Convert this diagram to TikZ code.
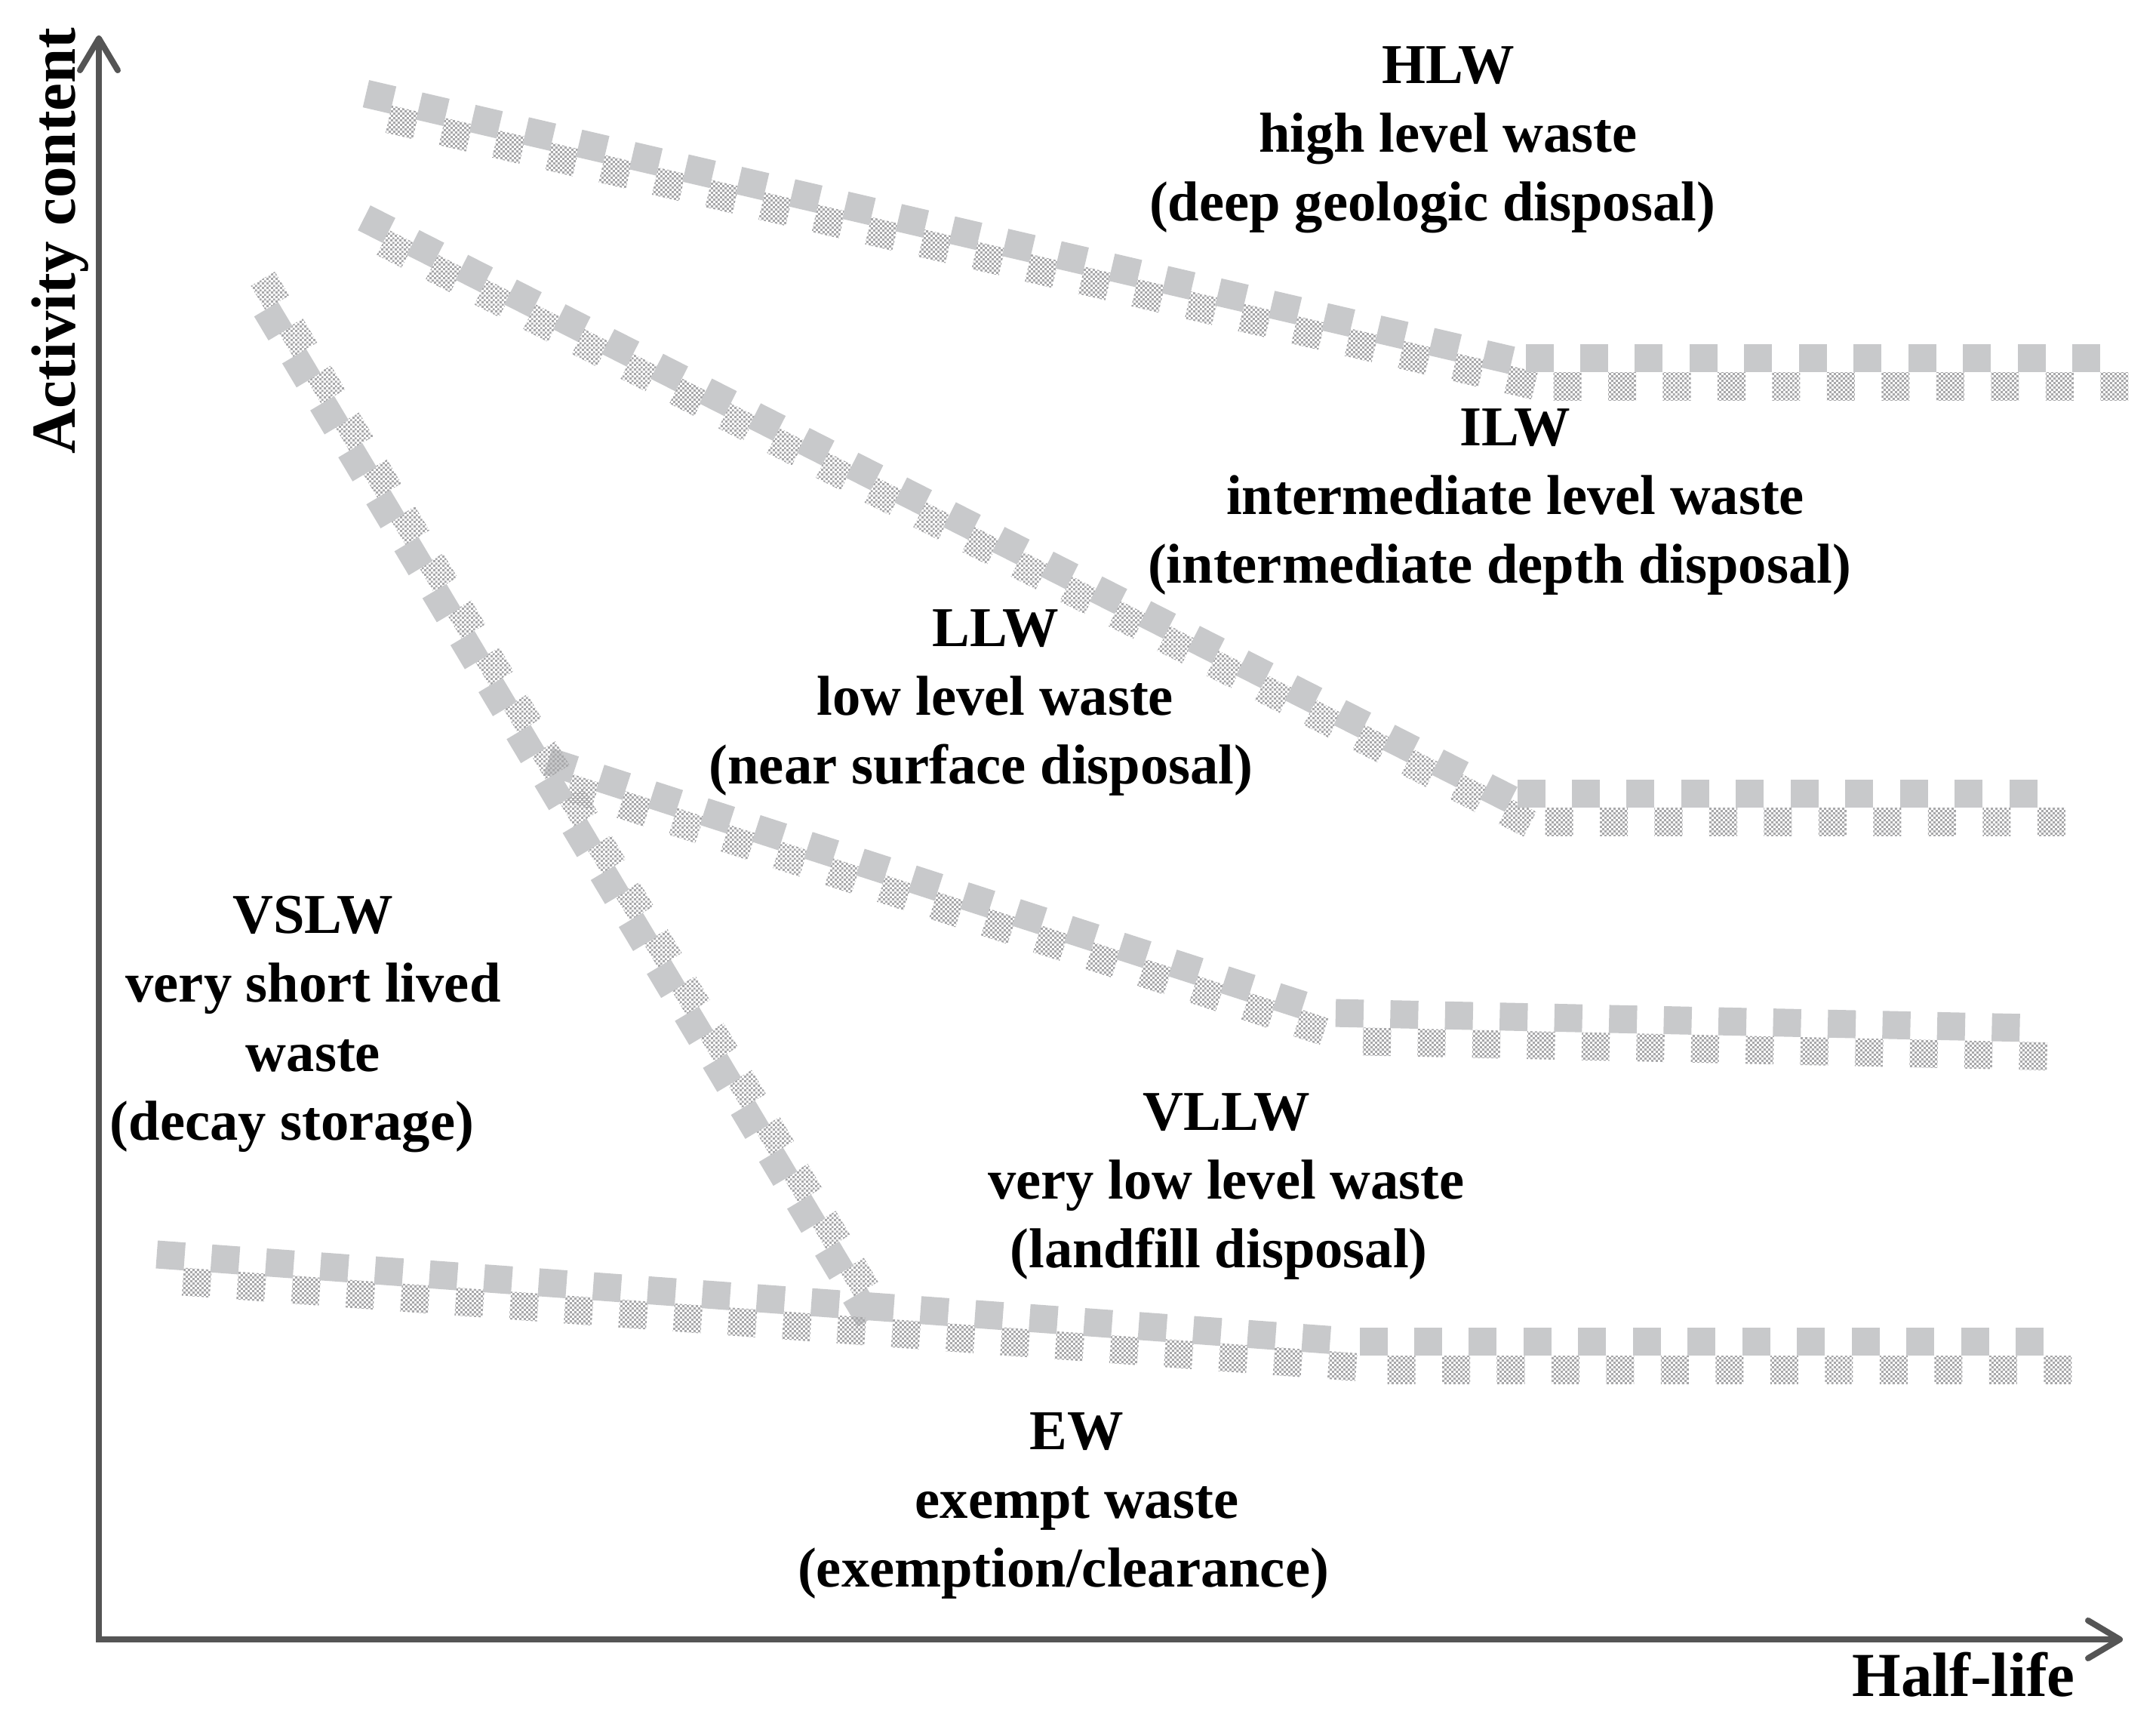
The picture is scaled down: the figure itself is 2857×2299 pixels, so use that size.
\documentclass[tikz,border=0pt]{standalone}
\usepackage{fontspec}
\setmainfont{Liberation Serif}
\usetikzlibrary{arrows.meta,decorations.markings,patterns.meta}

\definecolor{bandgray}{RGB}{200,201,203}
\definecolor{dotgray}{RGB}{168,168,170}
\definecolor{axisgray}{RGB}{85,85,85}

\tikzdeclarepattern{
  name=finechecker,
  type=uncolored,
  bounding box={(0pt,0pt) and (1.8pt,1.8pt)},
  tile size={(1.8pt,1.8pt)},
  code={
    \fill (0pt,0pt) rectangle (0.9pt,0.9pt);
    \fill (0.9pt,0.9pt) rectangle (1.8pt,1.8pt);
  }
}

\tikzset{
  zone/.style={align=center,font=\fontsize{21.2}{25.9}\selectfont\bfseries},
  axislabel/.style={font=\fontsize{23.6}{28}\selectfont\bfseries},
  axis/.style={line width=0.08cm,axisgray,
    {Straight Barb[length=0.42cm,width=0.5cm,round]}-{Straight Barb[length=0.42cm,width=0.5cm,round]}},
  band/.style={decorate,decoration={markings,mark=between positions 0 and 1 step 0.7244cm with {
    \fill[bandgray] (-0.185cm,{#1-0.185cm}) rectangle (0.185cm,{#1+0.185cm});
    \fill[pattern=finechecker,pattern color=dotgray] (0.185cm,{-#1-0.185cm}) rectangle (0.555cm,{-#1+0.185cm});
  }}}
}

\begin{document}
\begin{tikzpicture}[x=0.01cm,y=-0.01cm]
\useasboundingbox (0,0) rectangle (2857,2299);

% Axes
\coordinate (O) at (131,2172);
\coordinate (ytip) at (131,47);
\coordinate (xtip) at (2813,2172);
\draw[axis] (ytip) -- (O) -- (xtip);
\node[axislabel,rotate=90] (ylabel) at (80,319) {Activity content};
\node[axislabel] (xlabel) at (2602,2219) {Half-life};

% Band corners
\coordinate (hlwA) at (500,141);
\coordinate (hlwB) at (2000,490);
\coordinate (hlwC) at (2040,493);
\coordinate (hlwD) at (2775,493);
\coordinate (ilwA) at (495,305);
\coordinate (ilwB) at (2000,1068);
\coordinate (ilwC) at (2029,1070);
\coordinate (ilwD) at (2690,1070);
\coordinate (llwA) at (740,1026);
\coordinate (llwB) at (1765,1357);
\coordinate (llwC) at (1788,1361);
\coordinate (llwD) at (2665,1380);
\coordinate (vslwA) at (1150,1728);
\coordinate (vslwB) at (340,372);
\coordinate (ewA) at (225,1680);
\coordinate (ewB) at (1790,1794);
\coordinate (ewC) at (1820,1796);
\coordinate (ewD) at (2695,1796);

% Bands
\path[band=0.13cm] (hlwA) -- (hlwB);
\path[band=0.185cm] (hlwC) -- (hlwD);
\path[band=0.09cm] (ilwA) -- (ilwB);
\path[band=0.185cm] (ilwC) -- (ilwD);
\path[band=0.124cm] (llwA) -- (llwB);
\path[band=0.185cm] (llwC) -- (llwD);
\path[band=0.085cm] (vslwA) -- (vslwB);
\path[band=0.167cm] (ewA) -- (ewB);
\path[band=0.185cm] (ewC) -- (ewD);

% Waste classes
\node[zone] (hlw) at (1919,185) {HLW\\high level waste\\(deep geologic disposal)\hspace*{0.42cm}};
\node[zone] (ilw) at (2008,665) {ILW\\intermediate level waste\\(intermediate depth disposal)\hspace*{0.42cm}};
\node[zone] (llw) at (1319,931) {LLW\\low level waste\\(near surface disposal)\hspace*{0.38cm}};
\node[zone] (vslw) at (415,1357) {VSLW\\very short lived\\waste\\(decay storage)\hspace*{0.56cm}};
\node[zone] (vllw) at (1625,1572) {VLLW\\very low level waste\\(landfill disposal)\hspace*{0.2cm}};
\node[zone] (ew) at (1427,1995) {EW\\exempt waste\\(exemption/clearance)\hspace*{0.36cm}};
\end{tikzpicture}
\end{document}
